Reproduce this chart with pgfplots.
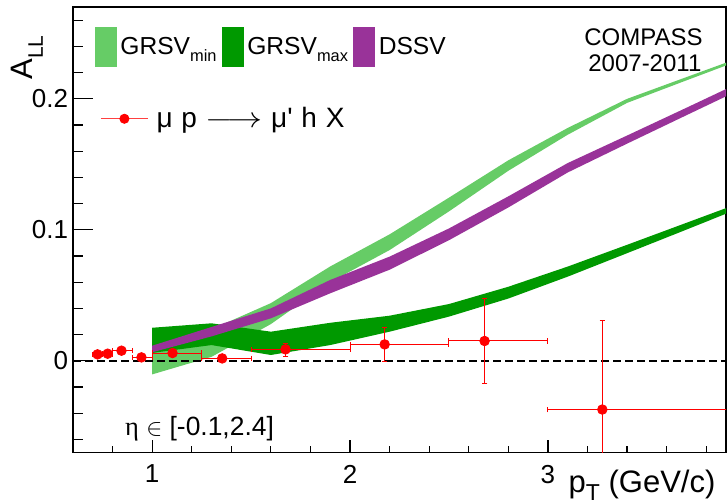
\documentclass[border=0pt]{standalone}
\usepackage{fontspec}
\setmainfont{Liberation Sans}
\newfontfamily\greekserif{Liberation Serif}
\usepackage{pgfplots}
\usepackage{pgfplotstable}
\pgfplotsset{compat=1.18}
\usepgfplotslibrary{fillbetween}

\definecolor{gmin}{HTML}{66CC66}
\definecolor{gmax}{HTML}{009900}
\definecolor{dssv}{HTML}{993399}

% size, drop, text
\newcommand{\lsub}[3]{\raisebox{-#2}{\fontsize{#1}{#1}\selectfont #3}}

\pgfplotstableread{
x   lo      hi
1.0 -0.0104 0.0120
1.3  0.0030 0.0240
1.6  0.0280 0.0440
1.9  0.0600 0.0720
2.2  0.0845 0.0965
2.5  0.1140 0.1245
2.8  0.1450 0.1530
3.1  0.1725 0.1777
3.4  0.1968 0.1999
3.7  0.2140 0.2165
4.0  0.2310 0.2330
}\gmintab

\pgfplotstableread{
x   lo     hi
1.0 0.0060 0.0252
1.3 0.0120 0.0286
1.6 0.0044 0.0222
1.9 0.0120 0.0290
2.2 0.0222 0.0344
2.5 0.0337 0.0433
2.8 0.0475 0.0565
3.1 0.0642 0.0719
3.4 0.0821 0.0885
3.7 0.1001 0.1053
4.0 0.1183 0.1221
}\gmaxtab

\pgfplotstableread{
x   lo     hi
1.0 0.0065 0.0115
1.3 0.0186 0.0258
1.6 0.0324 0.0400
1.9 0.0515 0.0617
2.2 0.0695 0.0795
2.5 0.0920 0.1010
2.8 0.1170 0.1255
3.1 0.1437 0.1509
3.4 0.1657 0.1719
3.7 0.1874 0.1931
4.0 0.2090 0.2145
}\dssvtab

\pgfplotstableread{
x     y       exm   exp   eym    eyp
0.724  0.0049 0.024 0.026 0.0015 0.0015
0.775  0.0054 0.025 0.025 0.0015 0.0015
0.845  0.0077 0.045 0.055 0.0015 0.0015
0.946  0.0026 0.046 0.054 0.0020 0.0020
1.103  0.0059 0.103 0.147 0.0020 0.0020
1.354  0.0018 0.104 0.146 0.0020 0.0020
1.674  0.0087 0.174 0.326 0.0051 0.0046
2.175  0.0125 0.175 0.325 0.0127 0.0127
2.680  0.0151 0.180 0.320 0.0327 0.0326
3.275 -0.0372 0.275 0.725 0.0680 0.0681
}\datatab

\begin{document}
\begin{tikzpicture}
\begin{axis}[
    name=main,
    scale only axis,
    width=326.5pt, height=222.75pt,
    xmin=0.6, xmax=3.9, ymin=-0.07, ymax=0.27,
    axis line style={line width=0.8pt},
    tick align=inside,
    xtick pos=bottom,
    xtick={1,2,3}, xticklabels={1,2,3},
    minor xtick={0.8,1.2,1.4,1.6,1.8,2.2,2.4,2.6,2.8,3.2,3.4,3.6,3.8},
    ytick=\empty,
    major tick length=6.5pt, minor tick length=3.2pt,
    tick style={black, line width=0.6pt},
    xticklabel style={inner sep=0pt, yshift=-6pt, font=\fontsize{13}{15}\selectfont},
    legend columns=3,
    legend cell align=left,
    legend style={at={(axis cs:0.707,0.2549)}, anchor=north west,
        draw=none, fill=none, inner sep=0pt, nodes={inner sep=0pt},
        font=\fontsize{12.3}{14}\selectfont,
        /tikz/every odd column/.append style={column sep=2pt},
        /tikz/every even column/.append style={column sep=2.5pt}},
]
% bands
\addplot[name path=gminlo, draw=none, forget plot] table[x=x, y=lo]{\gmintab};
\addplot[name path=gminhi, draw=none, forget plot] table[x=x, y=hi]{\gmintab};
\addplot[fill=gmin, draw=none, forget plot] fill between[of=gminlo and gminhi];

\addplot[name path=gmaxlo, draw=none, forget plot] table[x=x, y=lo]{\gmaxtab};
\addplot[name path=gmaxhi, draw=none, forget plot] table[x=x, y=hi]{\gmaxtab};
\addplot[fill=gmax, draw=none, forget plot] fill between[of=gmaxlo and gmaxhi];

\addplot[name path=dssvlo, draw=none, forget plot] table[x=x, y=lo]{\dssvtab};
\addplot[name path=dssvhi, draw=none, forget plot] table[x=x, y=hi]{\dssvtab};
\addplot[fill=dssv, draw=none, forget plot] fill between[of=dssvlo and dssvhi];

\addlegendimage{legend image code/.code={\fill[gmin] (0pt,-9.75pt) rectangle (10.5pt,9.75pt);}}
\addlegendentry{GRSV\lsub{8.2}{3.5pt}{min}}
\addlegendimage{legend image code/.code={\fill[gmax] (0pt,-9.75pt) rectangle (10.5pt,9.75pt);}}
\addlegendentry{GRSV\lsub{8.2}{3.5pt}{max}}
\addlegendimage{legend image code/.code={\fill[dssv] (0pt,-9.75pt) rectangle (10.5pt,9.75pt);}}
\addlegendentry{DSSV}

% zero line
\addplot[black, line width=0.8pt, dash pattern=on 4pt off 2pt, forget plot] coordinates {(0.6,0) (3.9,0)};

% data
\addplot[red, only marks, mark=*, mark size=2.4pt, mark options={fill=red, draw=red},
    error bars/.cd, x dir=both, x explicit, y dir=both, y explicit,
    error bar style={red, line width=0.5pt},
    error mark options={rotate=90, red, mark size=1.4pt, line width=0.5pt},
    ] table[x=x, y=y, x error plus=exp, x error minus=exm, y error plus=eyp, y error minus=eym]{\datatab};

\coordinate (ylab) at (axis cs:0.3975,0.2536);
\coordinate (xlab) at (axis cs:3.882,-0.1002);
\coordinate (comp) at (axis cs:3.483,0.2408);
\coordinate (year) at (axis cs:3.49,0.2209);
\coordinate (eta) at (axis cs:0.828,-0.0568);
\end{axis}

\begin{axis}[
    scale only axis,
    width=326.5pt, height=222.75pt,
    xmin=0.6, xmax=3.9, ymin=-0.07, ymax=0.27,
    axis line style={draw=none},
    xtick=\empty,
    tick align=inside,
    ytick pos=left,
    ytick={0,0.1,0.2}, yticklabels={0,0.1,0.2},
    minor ytick={-0.06,-0.04,-0.02,0.02,0.04,0.06,0.08,0.12,0.14,0.16,0.18,0.22,0.24,0.26},
    major tick length=9.8pt, minor tick length=4.8pt,
    tick style={black, line width=0.6pt},
    yticklabel style={inner sep=0pt, xshift=-2.25pt, font=\fontsize{13}{15}\selectfont},
    legend style={at={(axis cs:0.736,0.1847)}, anchor=west,
        draw=none, fill=none, inner sep=0pt, nodes={inner sep=0pt},
        font=\fontsize{14}{16}\selectfont,
        /tikz/every odd column/.append style={column sep=4pt}},
]
\addlegendimage{legend image code/.code={\draw[red!75!white, line width=0.6pt] (0pt,0pt) -- (23.5pt,0pt); \fill[red] (11.75pt,0pt) circle[radius=2.3pt];}}
\addlegendentry{μ\hspace{4.4pt}p\hspace{4.4pt}\scalebox{1.22}[1]{$\longrightarrow$}\hspace{4.4pt}μ\textquotesingle\hspace{4.4pt}h\hspace{4.4pt}X}
\end{axis}

\node[rotate=90, anchor=base east, font=\fontsize{15.5}{18}\selectfont] at (ylab) {A\lsub{10.5}{5pt}{LL}};
\node[anchor=base east, font=\fontsize{15.5}{18}\selectfont] at (xlab) {p\lsub{11.5}{4pt}{T} (GeV/c)};
\node[anchor=base, font=\fontsize{12}{14}\selectfont] at (comp) {COMPASS};
\node[anchor=base, font=\fontsize{12}{14}\selectfont] at (year) {2007-2011};
\node[anchor=base west, font=\fontsize{13.2}{15}\selectfont] at (eta) {{\greekserif η} $\in$ [-0.1,2.4]};

\pgfresetboundingbox
\useasboundingbox ([xshift=-36.5pt,yshift=-25.25pt]main.south west) rectangle ([xshift=0.5pt,yshift=3.5pt]main.north east);
\end{tikzpicture}
\end{document}
